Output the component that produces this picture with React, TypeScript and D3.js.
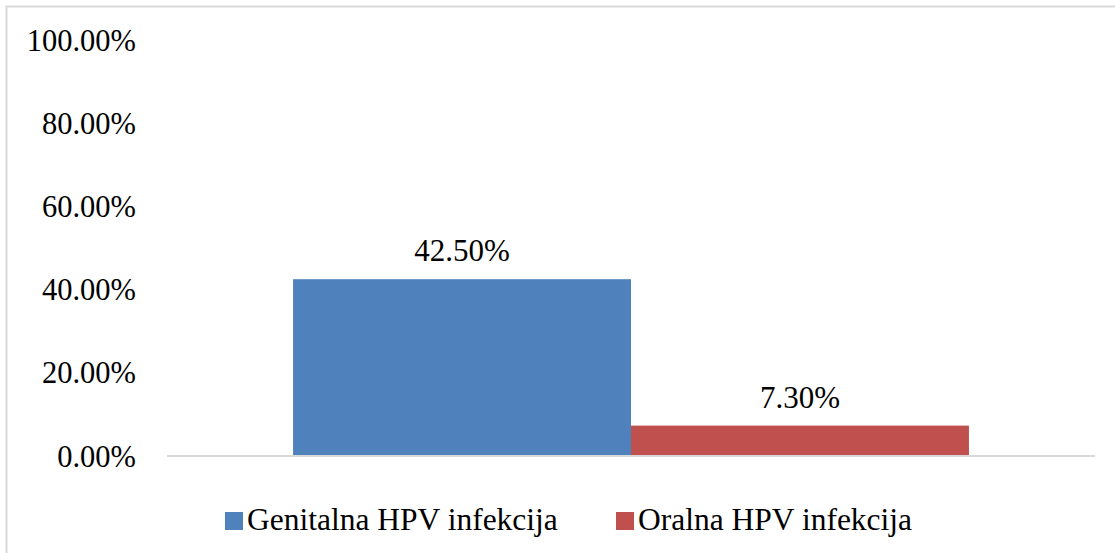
import React from 'react';
import * as d3 from 'd3';

const seriesNames = ['Genitalna HPV infekcija', 'Oralna HPV infekcija'];
const seriesValues = [0.425, 0.073];
const valueLabels = ['42.50%', '7.30%'];
const tickValues = [0, 0.2, 0.4, 0.6, 0.8, 1];
const colors = ['#4F81BD', '#C0504D'];

const width = 1115;
const height = 553;
const font = '"Liberation Serif", "Times New Roman", serif';

const App = () => {
  // plot area
  const x = d3.scaleBand<string>()
    .domain(seriesNames)
    .range([167, 1095])
    .paddingInner(0)
    .paddingOuter(0.373);

  const y = d3.scaleLinear()
    .domain([0, 1])
    .range([456, 40]);

  const fmt = d3.format('.2%');

  // legend positions
  const legendX = [225, 616];

  return (
    <svg width={width} height={height} style={{ position: 'absolute', left: 0, top: 0, background: '#fff' }}>
      <rect x={6.5} y={6.5} width={width + 10} height={height + 10} fill="#fff" stroke="#d9d9d9" strokeWidth={2} />

      {/* y axis labels */}
      {tickValues.map(t => (
        <text key={t} x={136} y={y(t)} dy="0.35em" textAnchor="end"
          fontFamily={font} fontSize={30.5} fill="#000">
          {fmt(t)}
        </text>
      ))}

      {/* bars */}
      {seriesNames.map((s, i) => (
        <rect key={s} x={x(s)} y={y(seriesValues[i])} width={x.bandwidth()}
          height={y(0) - y(seriesValues[i])} fill={colors[i]} />
      ))}

      {/* baseline */}
      <line x1={167} x2={1095} y1={y(0)} y2={y(0)} stroke="#d9d9d9" strokeWidth={2} />

      {/* data labels */}
      {seriesNames.map((s, i) => (
        <text key={s} x={(x(s) as number) + x.bandwidth() / 2} y={y(seriesValues[i]) - 18}
          textAnchor="middle" fontFamily={font} fontSize={31} fill="#000">
          {valueLabels[i]}
        </text>
      ))}

      {/* legend */}
      {seriesNames.map((s, i) => (
        <g key={s} transform={`translate(${legendX[i]},0)`}>
          <rect x={0} y={512} width={18} height={18} fill={colors[i]} />
          <text x={22} y={530} fontFamily={font} fontSize={31.5} fill="#000">{s}</text>
        </g>
      ))}
    </svg>
  );
};

export default App;
